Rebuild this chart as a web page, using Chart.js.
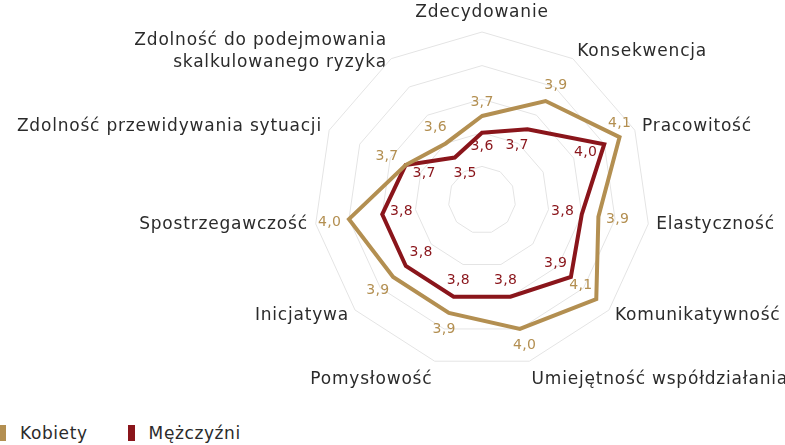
<!DOCTYPE html>
<html lang="pl">
<head>
<meta charset="utf-8">
<title>Cechy – Kobiety i Mężczyźni</title>
<script src="https://cdn.jsdelivr.net/npm/chart.js@4.4.1/dist/chart.umd.min.js"></script>
<style>
    html, body {
        margin: 0;
        padding: 0;
        background: #ffffff;
    }
    .wrap {
        position: relative;
        width: 785px;
        height: 445px;
        overflow: hidden;
        font-family: 'DejaVu Sans', sans-serif;
    }
    .chart-box {
        position: absolute;
        left: 0;
        top: 0;
        width: 785px;
        height: 410px;
    }
    .legend {
        position: absolute;
        left: -1px;
        top: 423px;
        display: flex;
        align-items: center;
        font-size: 17px;
        letter-spacing: 0.6px;
        color: #2b2b2b;
    }
    .legend-item {
        display: flex;
        align-items: center;
        margin-right: 40px;
    }
    .legend-swatch {
        width: 7px;
        height: 16px;
        margin-right: 14px;
    }
</style>
</head>
<body>
<div class="wrap">
    <div class="chart-box"><canvas id="traitsRadar"></canvas></div>
    <div class="legend" id="traitsLegend"></div>
</div>
<script>
// Traits (axis labels), clockwise from the top
const traits = [
    'Zdecydowanie',
    'Konsekwencja',
    'Pracowitość',
    'Elastyczność',
    'Komunikatywność',
    'Umiejętność współdziałania',
    'Pomysłowość',
    'Inicjatywa',
    'Spostrzegawczość',
    'Zdolność przewidywania sytuacji',
    ['Zdolność do podejmowania', 'skalkulowanego ryzyka']
];

// Average scores
const womenScores = [3.7, 3.9, 4.1, 3.9, 4.1, 4.0, 3.9, 3.9, 4.0, 3.7, 3.6];
const menScores = [3.6, 3.7, 4.0, 3.8, 3.9, 3.8, 3.8, 3.8, 3.8, 3.7, 3.5];

const seriesNames = ['Kobiety', 'Mężczyźni'];

// Radial scale range
const scaleMin = 3.2;
const scaleMax = 4.2;
const scaleStep = 0.2;

const GOLD = '#b38f51';
const MAROON = '#8a151b';
const FONT = "'DejaVu Sans', sans-serif";
const LETTER_SPACING = '0.8px';
const LABEL_PADDING = 8;

// Fixed web geometry: the long trait names are allowed to run wide
// instead of shrinking the web
const webCenter = { x: 482, y: 200 };
const webRadius = 168;

const RadialScale = Chart.registry.getScale('radialLinear');
RadialScale.prototype.setCenterPoint = function () {
    this.xCenter = webCenter.x;
    this.yCenter = webCenter.y;
    this.drawingArea = webRadius;
};

// Wider tracking for every text drawn on the canvas
const textSpacing = {
    id: 'textSpacing',
    beforeLayout(chart) {
        chart.ctx.letterSpacing = LETTER_SPACING;
    },
    beforeDraw(chart) {
        chart.ctx.letterSpacing = LETTER_SPACING;
    }
};

// Side trait names sit vertically centred on their spoke,
// only the top and bottom ones stay above / below the web
const centerSideLabels = {
    id: 'centerSideLabels',
    afterLayout(chart) {
        const scale = chart.scales.r;
        const items = scale._pointLabelItems;
        if (!items) return;
        items.forEach((item, i) => {
            const cos = Math.cos(scale.getIndexAngle(i));
            if (Math.abs(cos) > 0.9) return;
            const h = item.bottom - item.top;
            const p = scale.getPointPosition(i, scale.drawingArea + LABEL_PADDING);
            item.y = p.y - h / 2;
            item.top = item.y;
            item.bottom = item.y + h;
        });
    }
};

// true when a w*h box centred at (cx, cy) touches the polyline of a dataset
function boxHitsLine(points, cx, cy, w, h, pad) {
    const n = points.length;
    for (let i = 0; i < n; i++) {
        const a = points[i];
        const b = points[(i + 1) % n];
        const steps = Math.ceil(Math.hypot(b.x - a.x, b.y - a.y) / 2);
        for (let s = 0; s <= steps; s++) {
            const x = a.x + (b.x - a.x) * s / steps;
            const y = a.y + (b.y - a.y) * s / steps;
            if (Math.abs(x - cx) < w / 2 + pad && Math.abs(y - cy) < h / 2 + pad) return true;
        }
    }
    return false;
}

// Draws the score next to every vertex: first series outside, second inside;
// an outside score that would collide with a trait name moves elsewhere
const valueLabels = {
    id: 'valueLabels',
    afterDatasetsDraw(chart) {
        const ctx = chart.ctx;
        const scale = chart.scales.r;
        const boxes = scale._pointLabelItems || [];
        const lines = chart.data.datasets.map((ds, di) => chart.getDatasetMeta(di).data);
        ctx.save();
        ctx.font = '14px ' + FONT;
        ctx.letterSpacing = '0.3px';
        ctx.textAlign = 'center';
        ctx.textBaseline = 'middle';

        chart.data.datasets.forEach((ds, di) => {
            lines[di].forEach((pt, i) => {
                const text = ds.data[i].toFixed(1).replace('.', ',');
                const w = ctx.measureText(text).width;
                const h = 14;
                const vx = pt.x - scale.xCenter;
                const vy = pt.y - scale.yCenter;
                const len = Math.hypot(vx, vy) || 1;
                const ux = vx / len;
                const uy = vy / len;
                const d = 7 + Math.abs(ux) * w / 2 + Math.abs(uy) * h / 2;

                const outside = { x: pt.x + ux * d, y: pt.y + uy * d };
                const inside = { x: pt.x - ux * d, y: pt.y - uy * d };
                const above = { x: pt.x, y: pt.y - 7 - h / 2 };
                const candidates = di === 0 ? [outside, inside, above] : [inside];

                const clear = (c) =>
                    !boxes.some(b =>
                        c.x + w / 2 > b.left - 2 && c.x - w / 2 < b.right + 2 &&
                        c.y + h / 2 > b.top && c.y - h / 2 < b.bottom) &&
                    !lines.some(pts => boxHitsLine(pts, c.x, c.y, w, h - 2, 1));

                const pos = candidates.find(clear) || candidates[0];
                ctx.fillStyle = ds.borderColor;
                ctx.fillText(text, pos.x, pos.y);
            });
        });
        ctx.restore();
    }
};

const ctx = document.getElementById('traitsRadar');

new Chart(ctx, {
    type: 'radar',
    data: {
        labels: traits,
        datasets: [
            {
                label: seriesNames[0],
                data: womenScores,
                borderColor: GOLD,
                backgroundColor: 'transparent',
                borderWidth: 4,
                pointRadius: 0,
                fill: false
            },
            {
                label: seriesNames[1],
                data: menScores,
                borderColor: MAROON,
                backgroundColor: 'transparent',
                borderWidth: 4,
                pointRadius: 0,
                fill: false
            }
        ]
    },
    options: {
        responsive: true,
        maintainAspectRatio: false,
        animation: false,
        elements: {
            line: { tension: 0, borderJoinStyle: 'miter' }
        },
        plugins: {
            legend: { display: false },
            tooltip: { enabled: false }
        },
        scales: {
            r: {
                min: scaleMin,
                max: scaleMax,
                ticks: {
                    stepSize: scaleStep,
                    display: false
                },
                grid: {
                    color: '#e4e4e4',
                    lineWidth: 1
                },
                angleLines: { display: false },
                pointLabels: {
                    color: '#2b2b2b',
                    padding: LABEL_PADDING,
                    font: { family: FONT, size: 17, lineHeight: 1.3 }
                }
            }
        }
    },
    plugins: [textSpacing, centerSideLabels, valueLabels]
});

// Legend below the chart
const legend = document.getElementById('traitsLegend');
[GOLD, MAROON].forEach((color, i) => {
    const item = document.createElement('div');
    item.className = 'legend-item';
    const swatch = document.createElement('span');
    swatch.className = 'legend-swatch';
    swatch.style.background = color;
    const label = document.createElement('span');
    label.textContent = seriesNames[i];
    item.appendChild(swatch);
    item.appendChild(label);
    legend.appendChild(item);
});
</script>
</body>
</html>
